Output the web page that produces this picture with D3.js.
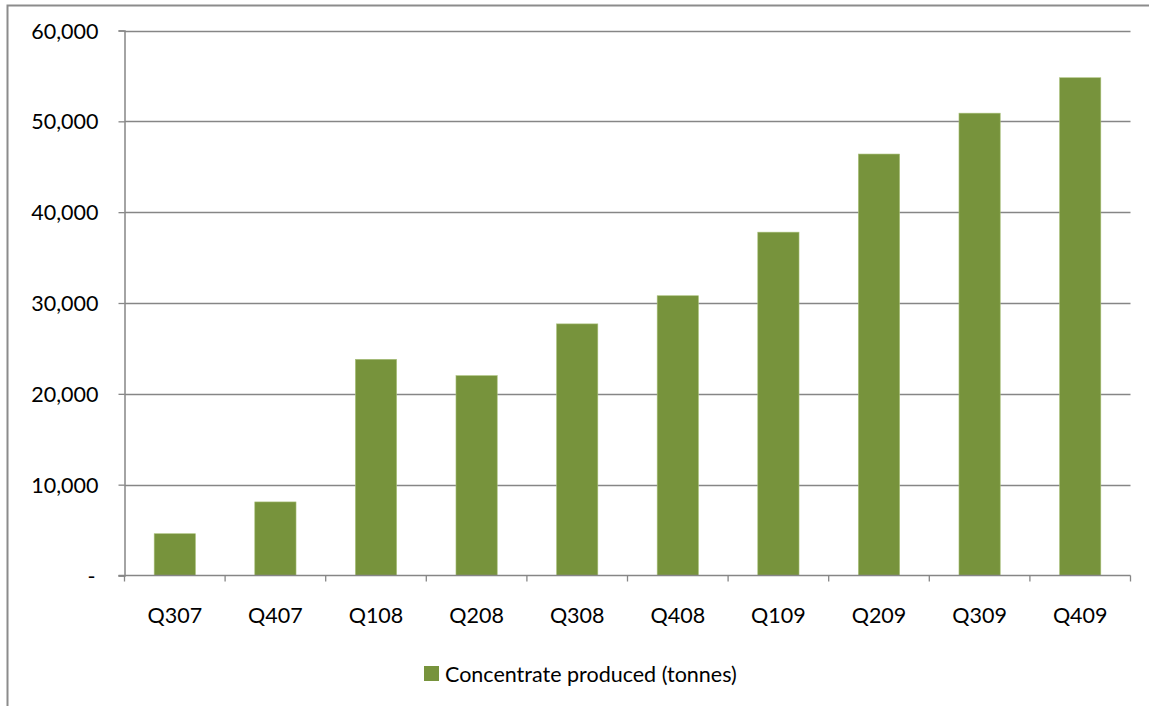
<!DOCTYPE html>
<html><head><meta charset="utf-8">
<script src="https://cdn.jsdelivr.net/npm/d3@7"></script>
<style>
body{margin:0;background:#fff;}
svg text{font-family:Lato,"Open Sans",sans-serif;fill:#000;}
</style></head>
<body><svg id="c" width="1149" height="706"></svg>
<script>
const categories=["Q307","Q407","Q108","Q208","Q308","Q408","Q109","Q209","Q309","Q409"];
const values=[4600,8100,23800,22000,27700,30800,37800,46400,50900,54800];
const yTicks=[0,10000,20000,30000,40000,50000,60000];
const seriesName="Concentrate produced (tonnes)";

const svg=d3.select("#c");
const m={l:124.5,r:1130.5,t:30.5,b:575.5};
const grey="#868686";
const fs=21.5;
svg.append("rect").attr("x",7.5).attr("y",5.5).attr("width",1200).attr("height",800)
  .attr("fill","none").attr("stroke","#8c8c8c").attr("stroke-width",2);

const x=d3.scaleBand().domain(categories).range([m.l,m.r]).paddingInner(0.59).paddingOuter(0.295);
const y=d3.scaleLinear().domain([0,60000]).range([m.b,m.t]);

// grid
svg.append("g").selectAll("line").data(yTicks.slice(1)).join("line")
  .attr("x1",m.l).attr("x2",m.r).attr("y1",d=>Math.round(y(d))+0.5).attr("y2",d=>Math.round(y(d))+0.5)
  .attr("stroke",grey).attr("stroke-width",1.3);

// bars
svg.append("g").selectAll("rect").data(values).join("rect")
  .attr("x",(d,i)=>x(categories[i])).attr("width",x.bandwidth())
  .attr("y",d=>y(d)).attr("height",d=>m.b-y(d))
  .attr("fill","#77933C").attr("stroke","#a9c07a").attr("stroke-width",0.6);

// y axis
const ya=svg.append("g").attr("transform",`translate(${m.l},0)`)
  .call(d3.axisLeft(y).tickValues(yTicks).tickSize(6).tickPadding(20)
    .tickFormat(d=>d===0?"-":d3.format(",")(d)));
ya.select(".domain").attr("stroke",grey).attr("stroke-width",1.5);
ya.selectAll(".tick line").attr("stroke",grey).attr("stroke-width",1.3);
ya.selectAll(".tick text").attr("font-size",fs).attr("dy","0.35em");
ya.selectAll(".tick text").filter(d=>d===0).attr("dx",-3);

// x axis
const xa=svg.append("g").attr("transform",`translate(0,${m.b})`)
  .call(d3.axisBottom(x).tickSize(0));
xa.select(".domain").remove();
xa.selectAll(".tick text").attr("font-size",fs).attr("y",47.5).attr("dy",0);
svg.append("line").attr("x1",m.l-6).attr("x2",m.r).attr("y1",m.b).attr("y2",m.b)
  .attr("stroke",grey).attr("stroke-width",1.5);
const step=(m.r-m.l)/categories.length;
svg.append("g").selectAll("line").data(d3.range(categories.length+1)).join("line")
  .attr("x1",i=>m.l+i*step).attr("x2",i=>m.l+i*step).attr("y1",m.b).attr("y2",m.b+6)
  .attr("stroke",grey).attr("stroke-width",1.3);

// legend
const lg=svg.append("g").attr("transform","translate(424,666)");
lg.append("rect").attr("width",15).attr("height",15).attr("fill","#77933C");
lg.append("text").attr("x",21).attr("y",16).attr("font-size",fs).text(seriesName);
</script></body></html>
